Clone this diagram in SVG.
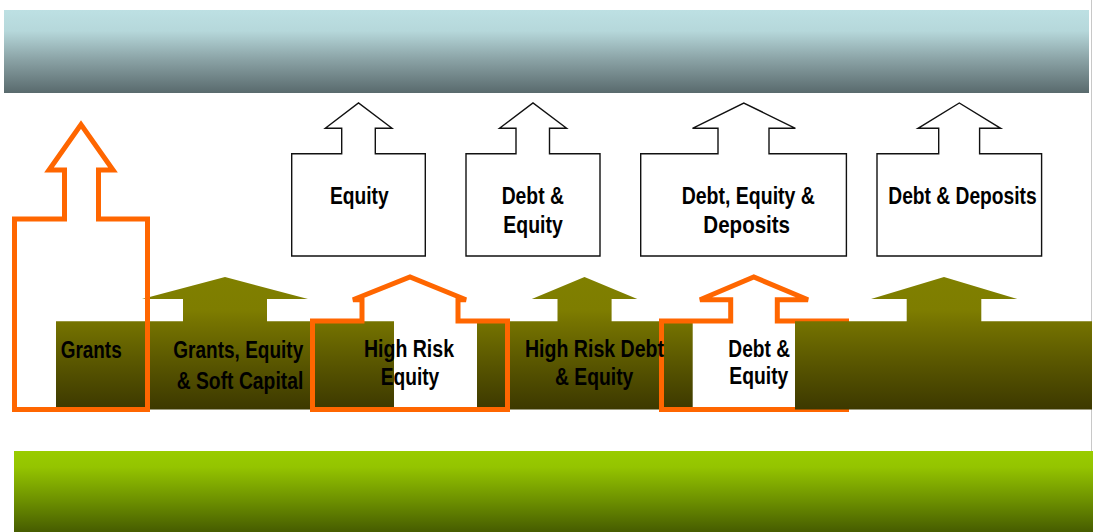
<svg xmlns="http://www.w3.org/2000/svg" width="1093" height="532" viewBox="0 0 1093 532">
  <defs>
    <linearGradient id="sky" x1="0" y1="0" x2="0" y2="1">
      <stop offset="0" stop-color="#bde0e3"/>
      <stop offset="0.25" stop-color="#b6d8db"/>
      <stop offset="0.6" stop-color="#8aa2a5"/>
      <stop offset="1" stop-color="#596a6d"/>
    </linearGradient>
    <linearGradient id="ground" x1="0" y1="0" x2="0" y2="1">
      <stop offset="0" stop-color="#99cc00"/>
      <stop offset="0.2" stop-color="#94c400"/>
      <stop offset="0.6" stop-color="#6e9200"/>
      <stop offset="1" stop-color="#465c00"/>
    </linearGradient>
    <linearGradient id="olive" gradientUnits="userSpaceOnUse" x1="0" y1="277" x2="0" y2="410">
      <stop offset="0" stop-color="#808000"/>
      <stop offset="0.25" stop-color="#7e7d00"/>
      <stop offset="0.34" stop-color="#757300"/>
      <stop offset="0.66" stop-color="#585500"/>
      <stop offset="1" stop-color="#3c3800"/>
    </linearGradient>
  </defs>
  <style>
    .box { fill: #ffffff; stroke: #111111; stroke-width: 1.4; }
    .olive { fill: url(#olive); stroke: none; }
    .orange { fill: none; stroke: #ff6600; stroke-width: 5; stroke-linejoin: miter; }
    .lbl { font-family: "Liberation Sans Narrow", "Liberation Sans", Arial, sans-serif; font-weight: bold; font-size: 23.5px; fill: #000000; text-anchor: middle; }
  </style>

  <rect x="0" y="0" width="1093" height="532" fill="#ffffff"/>

  <g id="bands">
    <rect x="4" y="10" width="1085" height="83" fill="url(#sky)"/>
    <rect x="14" y="451" width="1079" height="81" fill="url(#ground)"/>
    <line x1="1091.5" y1="0" x2="1091.5" y2="451" stroke="#c8c8c8" stroke-width="1"/>
  </g>

  <g id="node-equity">
    <polygon class="box" points="291.7,153.7 341.7,153.7 341.7,128.3 325.3,128.3 358.5,103 392,128.3 375.3,128.3 375.3,153.7 425.3,153.7 425.3,256 291.7,256"/>
    <text class="lbl" x="359.3" y="204" textLength="58.7" lengthAdjust="spacingAndGlyphs">Equity</text>
  </g>

  <g id="node-debt-equity">
    <polygon class="box" points="466,153.7 516,153.7 516,128.3 499.5,128.3 533,103 566.6,128.3 549.5,128.3 549.5,153.7 600,153.7 600,256 466,256"/>
    <text class="lbl" x="532.8" y="204" textLength="62.3" lengthAdjust="spacingAndGlyphs">Debt &amp;</text>
    <text class="lbl" x="533" y="232.5" textLength="59.4" lengthAdjust="spacingAndGlyphs">Equity</text>
  </g>

  <g id="node-debt-equity-deposits">
    <polygon class="box" points="640.7,153.7 718,153.7 718,128.3 692.5,128.3 743.8,103 795.4,128.3 769,128.3 769,153.7 846.4,153.7 846.4,256 640.7,256"/>
    <text class="lbl" x="748.3" y="204" textLength="133.3" lengthAdjust="spacingAndGlyphs">Debt, Equity &amp;</text>
    <text class="lbl" x="746.7" y="232.5" textLength="86.7" lengthAdjust="spacingAndGlyphs">Deposits</text>
  </g>

  <g id="node-debt-deposits">
    <polygon class="box" points="877,153.7 938.7,153.7 938.7,128.3 918,128.3 959.3,103 1000.7,128.3 979.6,128.3 979.6,153.7 1041.6,153.7 1041.6,256 877,256"/>
    <text class="lbl" x="962.5" y="204" textLength="148.4" lengthAdjust="spacingAndGlyphs">Debt &amp; Deposits</text>
  </g>

  <g id="node-olive-left">
    <path class="olive" d="M56,321.3 H183 V299 H142 L225,277 L308,299 H267 V321.3 H394 V409.5 H56 Z"/>
  </g>

  <g id="node-olive-mid">
    <path class="olive" d="M477,321.3 H557.5 V299 H531.8 L584.5,277 L637.3,299 H611.6 V321.3 H692.7 V409.5 H477 Z"/>
  </g>

  <g id="node-grants-arrow">
    <path class="orange" d="M14.5,219 H64.5 V170 H49 L81,124.5 L113,170 H98.5 V219 H147.5 V409.5 H14.5 Z"/>
  </g>

  <g id="node-high-risk-equity-arrow">
    <path class="orange" d="M312.5,321 H362 V299.7 H353 L410,277 L466,299.7 H458 V321 H507.5 V409.5 H312.5 Z"/>
  </g>

  <g id="node-debt-equity-arrow">
    <path class="orange" d="M661.5,321 H730.7 V299.7 H700 L753.8,277 L808,299.7 H777.3 V321 H846.5 V409.5 H661.5 Z"/>
  </g>

  <g id="node-olive-right">
    <path class="olive" d="M795,321.3 H906.7 V299 H871 L944,277 L1017.3,299 H981.3 V321.3 H1092 V409.5 H795 Z"/>
  </g>

  <g id="connectors"></g>

  <g id="labels-lower">
    <text class="lbl" x="91.2" y="358" textLength="61" lengthAdjust="spacingAndGlyphs">Grants</text>
    <text class="lbl" x="238.3" y="358" textLength="130" lengthAdjust="spacingAndGlyphs">Grants, Equity</text>
    <text class="lbl" x="240" y="389" textLength="126.7" lengthAdjust="spacingAndGlyphs">&amp; Soft Capital</text>
    <text class="lbl" x="409" y="357.3" textLength="90" lengthAdjust="spacingAndGlyphs">High Risk</text>
    <text class="lbl" x="410" y="385" textLength="58.6" lengthAdjust="spacingAndGlyphs">Equity</text>
    <text class="lbl" x="594.5" y="357.3" textLength="139" lengthAdjust="spacingAndGlyphs">High Risk Debt</text>
    <text class="lbl" x="594.2" y="385" textLength="78.3" lengthAdjust="spacingAndGlyphs">&amp; Equity</text>
    <text class="lbl" x="759.2" y="357.3" textLength="61.7" lengthAdjust="spacingAndGlyphs">Debt &amp;</text>
    <text class="lbl" x="758.8" y="383.5" textLength="59" lengthAdjust="spacingAndGlyphs">Equity</text>
  </g>
</svg>
